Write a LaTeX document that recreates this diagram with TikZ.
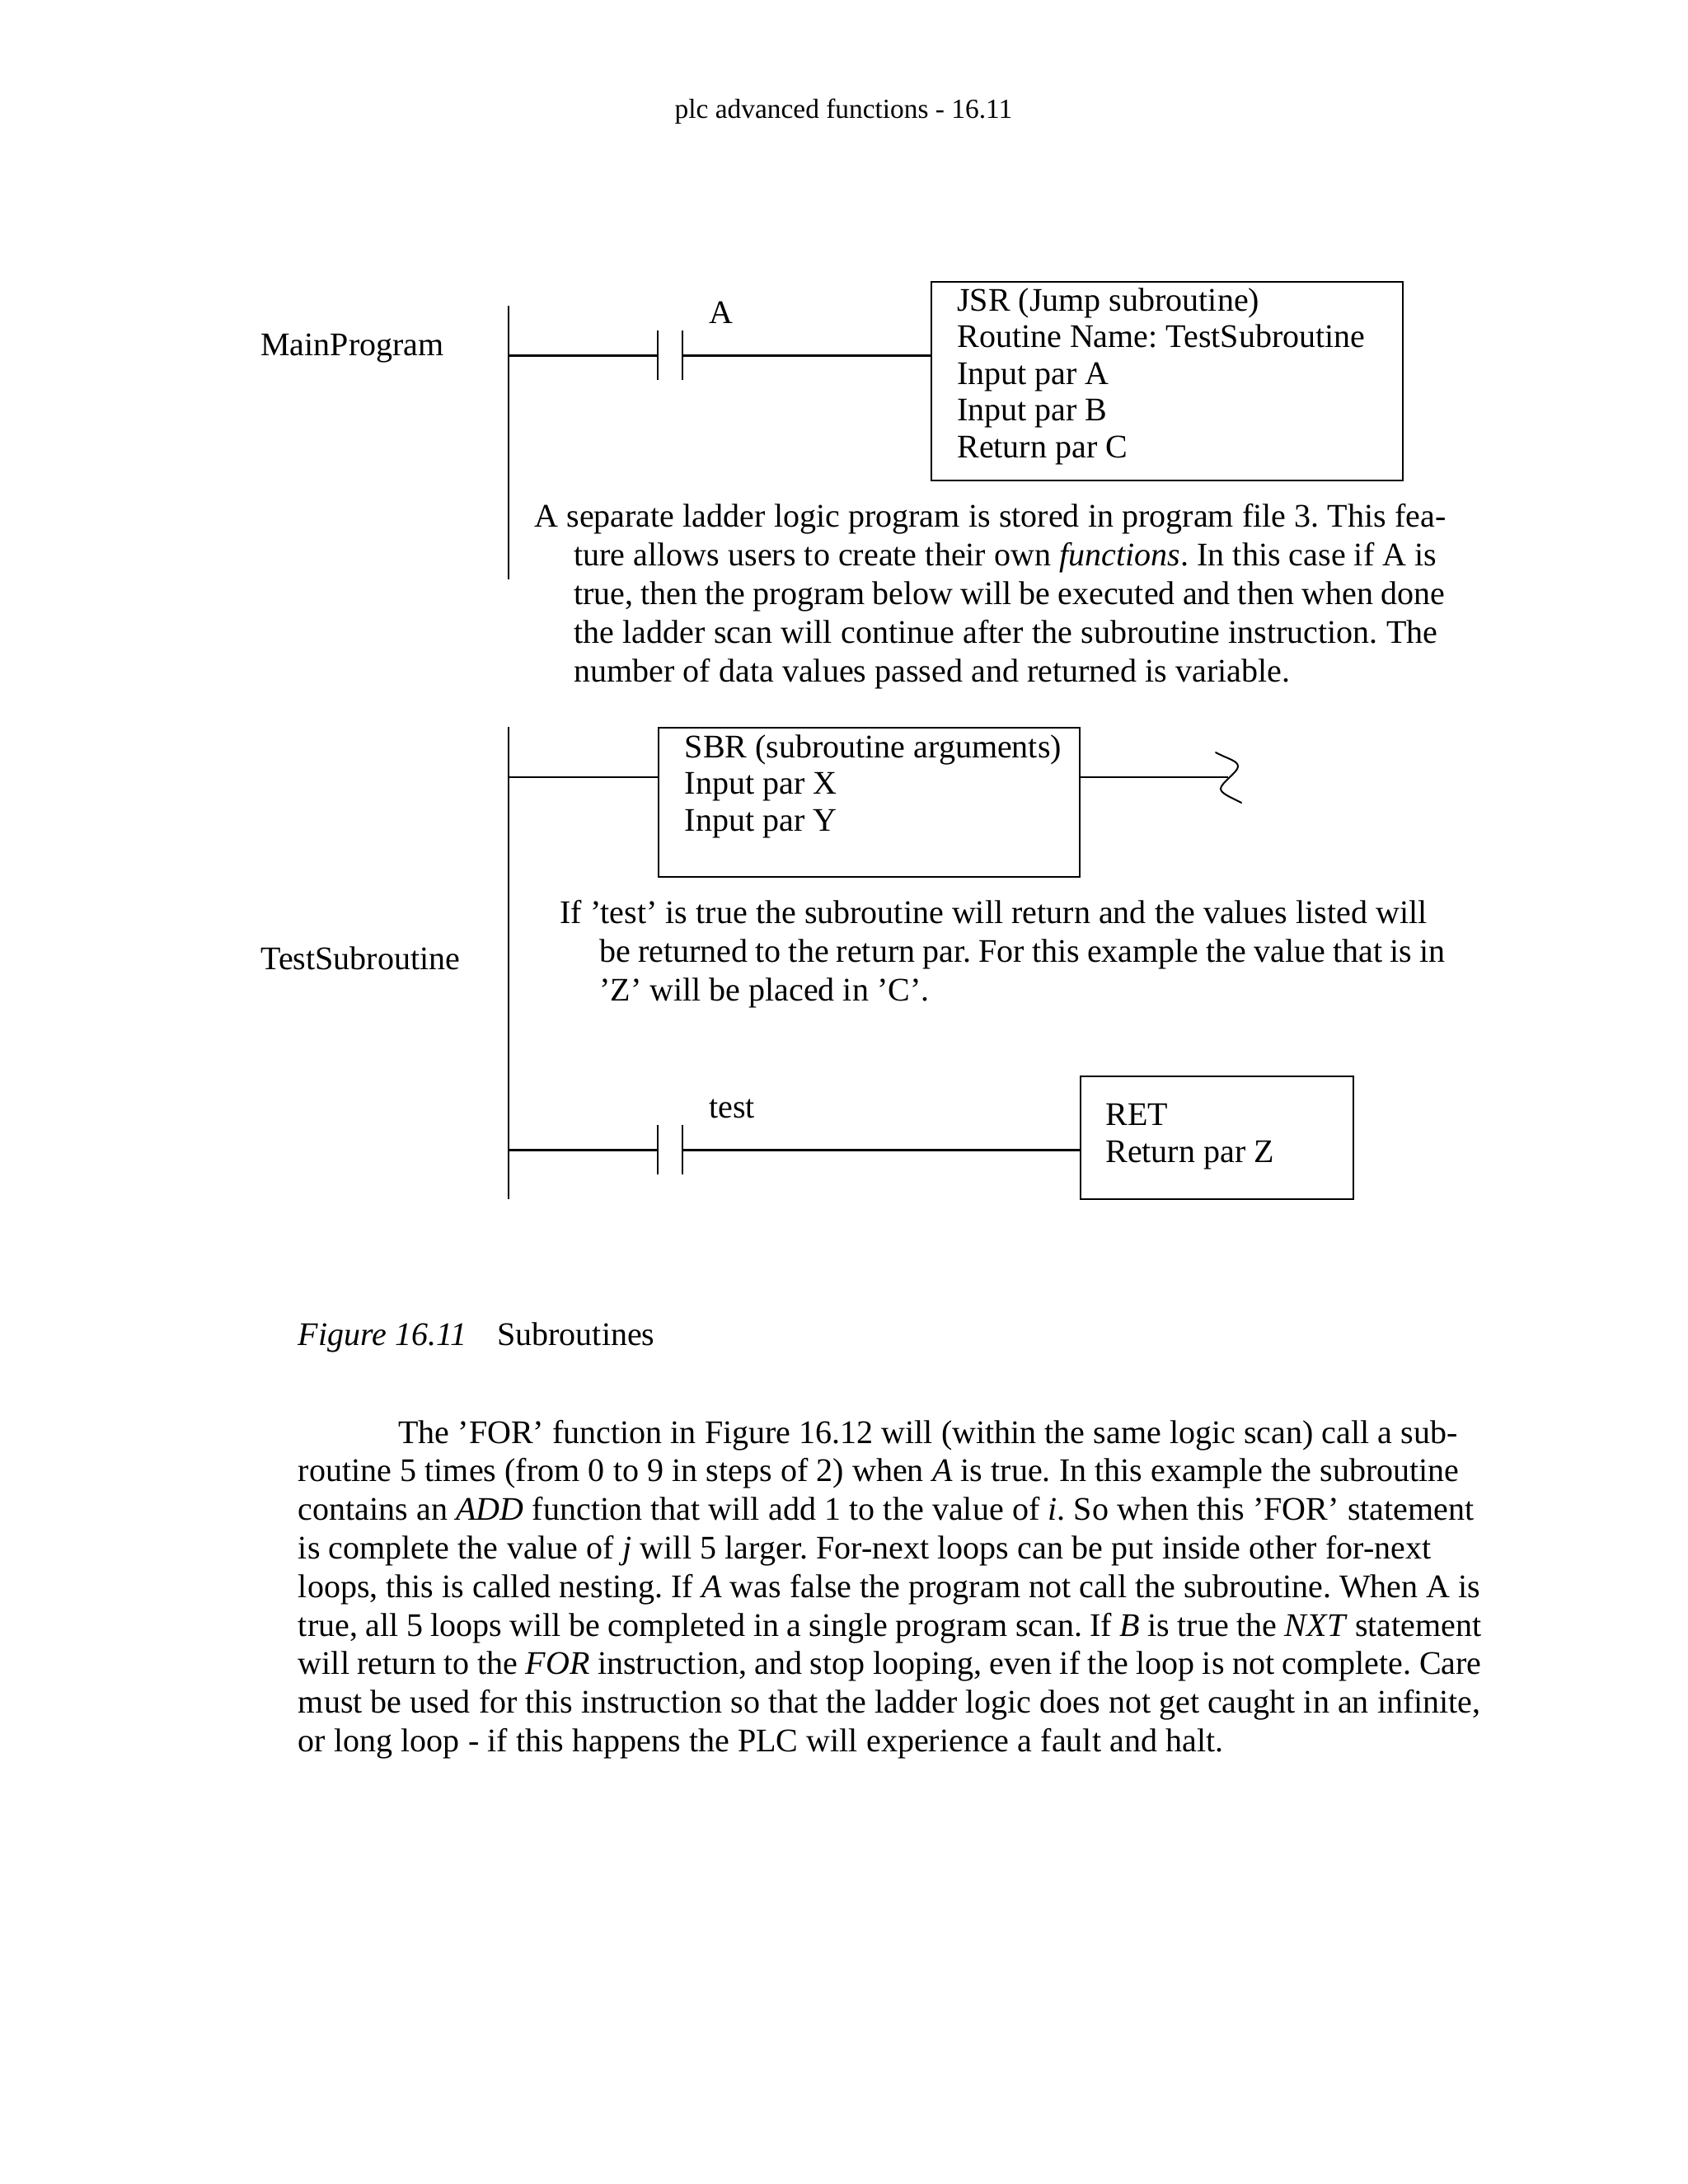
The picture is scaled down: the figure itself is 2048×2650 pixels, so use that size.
\documentclass[tikz,border=0pt]{standalone}
\usepackage{fontspec}
\setmainfont[WordSpace={1,3,3}]{Liberation Serif}
\AtBeginDocument{\frenchspacing}
\tikzset{
  px/.style={x=0.5pt,y=-0.5pt},
  wire/.style={draw=black,line width=1.1pt},
  thin wire/.style={draw=black,line width=0.8pt},
  squiggle/.style={draw=black,line width=1pt,line cap=round},
  block/.style={draw=black,line width=1.1pt,fill=none,inner sep=0pt,anchor=north west},
  txt/.style={anchor=base west,inner sep=0pt,font=\fontsize{20}{23.4}\selectfont},
  hdr/.style={anchor=base,inner sep=0pt,font=\fontsize{16.7}{20}\selectfont},
  blocktxt/.style={txt},
}
\newcommand{\pxbox}[5]{\node[block,minimum width=#4*0.5pt,minimum height=#5*0.5pt] (#1) at (#2,#3) {};}
% a line of text set from left end #1 to right end #2 (both in pixels)
\newcommand{\fitto}[3]{\hbox to \dimexpr(#2pt-#1pt)/2\relax{#3}}
\begin{document}
\begin{tikzpicture}[px]
\useasboundingbox (0,0) rectangle (2048,2650);
\node[hdr] (header) at (1023.5,143) {plc advanced functions - 16.11};
% rails
\coordinate (railAtop) at (617,371);
\coordinate (railAbot) at (617,703);
\coordinate (railBtop) at (617,882);
\coordinate (railBbot) at (617,1455);
\draw[thin wire] (railAtop) -- (railAbot);
\draw[thin wire] (railBtop) -- (railBbot);
% rung 1
\node[txt] (mainlabel) at (316,431.5) {MainProgram};
\node[txt] (alabel) at (860,392.5) {A};
\coordinate (a1t) at (798,401); \coordinate (a1b) at (798,461);
\coordinate (a2t) at (828,401); \coordinate (a2b) at (828,461);
\draw[thin wire] (a1t) -- (a1b);
\draw[thin wire] (a2t) -- (a2b);
\pxbox{jsr}{1129}{341}{572}{241}
\node[blocktxt] (jsrt) at (1161,377) {JSR (Jump subroutine)};
\node[blocktxt] (jsrt2) at (1161,421.5) {Routine Name: TestSubroutine};
\node[blocktxt] (jsrt3) at (1161,466) {Input par A};
\node[blocktxt] (jsrt4) at (1161,510.5) {Input par B};
\node[blocktxt] (jsrt5) at (1161,555) {Return par C};
\coordinate (r1a) at (617,431.5); \coordinate (r1b) at (798,431.5);
\coordinate (r1c) at (828,431.5); \coordinate (r1d) at (1129,431.5);
\draw[wire] (r1a) -- (r1b);
\draw[wire] (r1c) -- (r1d);
% note 1
\node[txt] (n11) at (648,639) {\fitto{648}{1754}{A separate ladder logic program is stored in program file 3. This fea-}};
\node[txt] (n12) at (696,686) {\fitto{696}{1743}{ture allows users to create their own \textit{functions}. In this case if A is}};
\node[txt] (n13) at (696,733) {\fitto{696}{1753}{true, then the program below will be executed and then when done}};
\node[txt] (n14) at (696,780) {\fitto{696}{1744}{the ladder scan will continue after the subroutine instruction. The}};
\node[txt] (n15) at (696,827) {\fitto{696}{1565}{number of data values passed and returned is variable.}};
% rung 2
\pxbox{sbr}{798}{882}{511}{181}
\node[blocktxt] (sbrt1) at (830.5,919) {SBR (subroutine arguments)};
\node[blocktxt] (sbrt2) at (830.5,963.5) {Input par X};
\node[blocktxt] (sbrt3) at (830.5,1008) {Input par Y};
\coordinate (r2a) at (617,943); \coordinate (r2b) at (798,943);
\coordinate (r2c) at (1310,943); \coordinate (r2d) at (1490,943);
\draw[wire] (r2a) -- (r2b);
\draw[wire] (r2c) -- (r2d);
\coordinate (sq0) at (1475,913); \coordinate (sq1) at (1506,974);
\draw[squiggle] (sq0) .. controls (1490,921) and (1502,923) .. (1502,930)
  .. controls (1502,937) and (1481,950) .. (1481,957)
  .. controls (1481,963) and (1495,968) .. (sq1);
% note 2
\node[txt] (n21) at (679,1120) {\fitto{679}{1731}{If ’test’ is true the subroutine will return and the values listed will}};
\node[txt] (n22) at (727,1167) {\fitto{727}{1753}{be returned to the return par. For this example the value that is in}};
\node[txt] (n23) at (727,1214) {’Z’ will be placed in ’C’.};
\node[txt] (sublabel) at (316,1176) {TestSubroutine};
% rung 3
\node[txt] (testlabel) at (860,1356) {test};
\coordinate (t1t) at (798,1365); \coordinate (t1b) at (798,1425);
\coordinate (t2t) at (828,1365); \coordinate (t2b) at (828,1425);
\draw[thin wire] (t1t) -- (t1b);
\draw[thin wire] (t2t) -- (t2b);
\pxbox{ret}{1310}{1305}{331}{149}
\node[blocktxt] (rett1) at (1341,1365) {RET};
\node[blocktxt] (rett2) at (1341,1410) {Return par Z};
\coordinate (r3a) at (617,1395.5); \coordinate (r3b) at (798,1395.5);
\coordinate (r3c) at (828,1395.5); \coordinate (r3d) at (1310,1395.5);
\draw[wire] (r3a) -- (r3b);
\draw[wire] (r3c) -- (r3d);
% caption
\node[txt] (figa) at (361.5,1632.5) {\textit{Figure 16.11}};
\node[txt] (figb) at (603,1632.5) {Subroutines};
% paragraph
\node[txt] (p1) at (483,1751) {\fitto{483}{1768}{The ’FOR’ function in Figure 16.12 will (within the same logic scan) call a sub-}};
\node[txt] (p2) at (361.5,1797.8) {\fitto{361.5}{1770}{routine 5 times (from 0 to 9 in steps of 2) when \textit{A} is true. In this example the subroutine}};
\node[txt] (p3) at (361.5,1844.6) {\fitto{361.5}{1788}{contains an \textit{ADD} function that will add 1 to the value of \textit{i}. So when this ’FOR’ statement}};
\node[txt] (p4) at (361.5,1891.4) {\fitto{361.5}{1736}{is complete the value of \textit{j} will 5 larger. For-next loops can be put inside other for-next}};
\node[txt] (p5) at (361.5,1938.2) {\fitto{361.5}{1796}{loops, this is called nesting. If \textit{A} was false the program not call the subroutine. When A is}};
\node[txt] (p6) at (361.5,1985) {\fitto{361.5}{1797}{true, all 5 loops will be completed in a single program scan. If \textit{B} is true the \textit{NXT} statement}};
\node[txt] (p7) at (361.5,2031.8) {\fitto{361.5}{1797}{will return to the \textit{FOR} instruction, and stop looping, even if the loop is not complete. Care}};
\node[txt] (p8) at (361.5,2078.6) {\fitto{361.5}{1796}{must be used for this instruction so that the ladder logic does not get caught in an infinite,}};
\node[txt] (p9) at (361.5,2125.4) {\fitto{361.5}{1484}{or long loop - if this happens the PLC will experience a fault and halt.}};
\end{tikzpicture}
\end{document}
